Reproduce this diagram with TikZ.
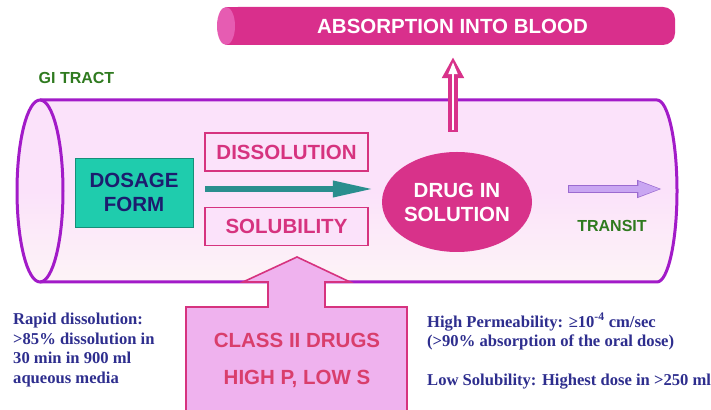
\documentclass[tikz,border=0pt]{standalone}
\usepackage{fontspec}
\setmainfont{Liberation Serif}
\setsansfont{Liberation Sans}
\usetikzlibrary{arrows.meta,shapes.geometric,calc}

\definecolor{giedge}{HTML}{A21BC8}
\definecolor{gitop}{HTML}{FBE2FA}
\definecolor{gibot}{HTML}{FDF4F7}
\definecolor{bloodc}{HTML}{D92F8C}
\definecolor{bloodcap}{HTML}{E65CB2}
\definecolor{magenta2}{HTML}{D8328A}
\definecolor{boxpink}{HTML}{D6337F}
\definecolor{turq}{HTML}{1FCCAD}
\definecolor{navyt}{HTML}{1C1C6E}
\definecolor{tealarrow}{HTML}{2A8E8E}
\definecolor{greent}{HTML}{2F7A1F}
\definecolor{lav}{HTML}{C9A6F2}
\definecolor{lavedge}{HTML}{9B6BD0}
\definecolor{orchid}{HTML}{EFB2EE}
\definecolor{classtxt}{HTML}{D93E6C}
\definecolor{notetxt}{HTML}{2E2E8E}

\begin{document}
\begin{tikzpicture}[x=1pt,y=1pt,
  bigsans/.style={font=\sffamily\bfseries\fontsize{20.5}{24}\selectfont},
  smallsans/.style={font=\sffamily\bfseries\fontsize{16}{19}\selectfont, text=greent},
  notes/.style={font=\bfseries\fontsize{16.6}{19.5}\selectfont, text=notetxt,
    align=left, anchor=north west, inner sep=0pt},
  stagebox/.style={bigsans, draw=boxpink, line width=1.4pt, fill=gitop,
    text=boxpink, minimum width=163pt, minimum height=38pt, inner sep=0pt},
  giline/.style={draw=giedge, line width=3pt},
  flowarrow/.style={draw=tealarrow, line width=6.5pt,
    -{Triangle[length=42pt,width=15pt]}},
  absorbouter/.style={draw=magenta2, line width=9.5pt,
    -{Triangle[length=21pt,width=21pt]}},
  absorbinner/.style={draw=white, line width=2pt,
    -{Triangle[length=12pt,width=9pt]}},
  transitouter/.style={draw=lavedge, line width=8pt,
    -{Triangle[length=26pt,width=16pt]}},
  transitinner/.style={draw=lav, line width=6pt,
    -{Triangle[length=23pt,width=13.5pt]}}
]
\useasboundingbox (0,0) rectangle (711,409);

% blood vessel at the top
\node[bigsans, fill=bloodc, text=white, rounded corners=12pt,
      minimum width=449pt, minimum height=38pt, inner sep=0pt]
      (blood) at (450.5,383) {\hspace*{4pt}ABSORPTION INTO BLOOD};
\fill[bloodc] (226,364) rectangle (250,402);
\fill[bloodcap] (226,383) ellipse[x radius=9, y radius=19];

% GI tract tube
\path[top color=gitop, bottom color=gibot, middle color=gitop]
  (40,309) -- (657,309) arc[start angle=90,end angle=-90,x radius=20,y radius=91]
  -- (40,127) arc[start angle=270,end angle=90,x radius=23,y radius=91] -- cycle;
\draw[giline] (40,309) -- (657,309)
  arc[start angle=90,end angle=-90,x radius=20,y radius=91] -- (40,127);
\draw[giline] (40,218) ellipse[x radius=23, y radius=91];

\node[smallsans] (gi) at (76.5,331) {GI TRACT};

% stages inside the tract
\node[bigsans, fill=turq, draw=turq!70!black, line width=0.4pt, text=navyt,
      align=center, minimum width=118pt, minimum height=69pt, inner sep=0pt]
      (dosage) at (134,216.5) {DOSAGE\\FORM};

\node[stagebox] (diss) at (286.5,257) {DISSOLUTION};
\node[stagebox] (solub) at (286.5,182.5) {SOLUBILITY};

\node[ellipse, fill=magenta2, minimum width=150pt, minimum height=100pt,
      inner sep=0pt, bigsans, text=white, align=center]
      (drug) at (457,207) {DRUG IN\\SOLUTION};

\draw[flowarrow, shorten <=12pt, shorten >=7pt]
  ([yshift=3.5pt]dosage.east) -- ([yshift=3.5pt]dosage.east -| drug.west);

% transit onwards
\node[smallsans] (transit) at (612,183) {TRANSIT};
\coordinate (tstart) at (568,220);
\coordinate (tend) at (663,220);
\draw[transitouter] (tstart) -- (tend);
\draw[transitinner, shorten <=1pt, shorten >=1.6pt] (tstart) -- (tend);

% absorption upwards
\draw[absorbouter, shorten <=20pt, shorten >=12pt]
  ([xshift=-4pt]drug.north) -- ([xshift=-4pt]drug.north |- blood.south);
\draw[absorbinner, shorten <=21.5pt, shorten >=17pt]
  ([xshift=-4pt]drug.north) -- ([xshift=-4pt]drug.north |- blood.south);

% class II call-out
\filldraw[fill=orchid, draw=boxpink, line width=1.6pt]
  (186,-3) -- (186,102) -- (268,102) -- (268,127) -- (243,127) -- (297,152)
  -- (350,127) -- (325,127) -- (325,102) -- (407,102) -- (407,-3);
\node[bigsans, text=classtxt, align=center,
      font=\sffamily\bfseries\fontsize{20.5}{37}\selectfont]
      (classii) at (297,48.5) {CLASS II DRUGS\\HIGH P, LOW S};

% notes
\node[notes] (rapid) at (13,96) {Rapid dissolution:\\
  >85\% dissolution in\\ 30 min in 900 ml\\ aqueous media};
\node[notes] (perm) at (427,96) {High Permeability: ≥10\textsuperscript{-4} cm/sec\\
  (>90\% absorption of the oral dose)\\[19.5pt]
  Low Solubility: Highest dose in >250 ml};
\end{tikzpicture}
\end{document}
